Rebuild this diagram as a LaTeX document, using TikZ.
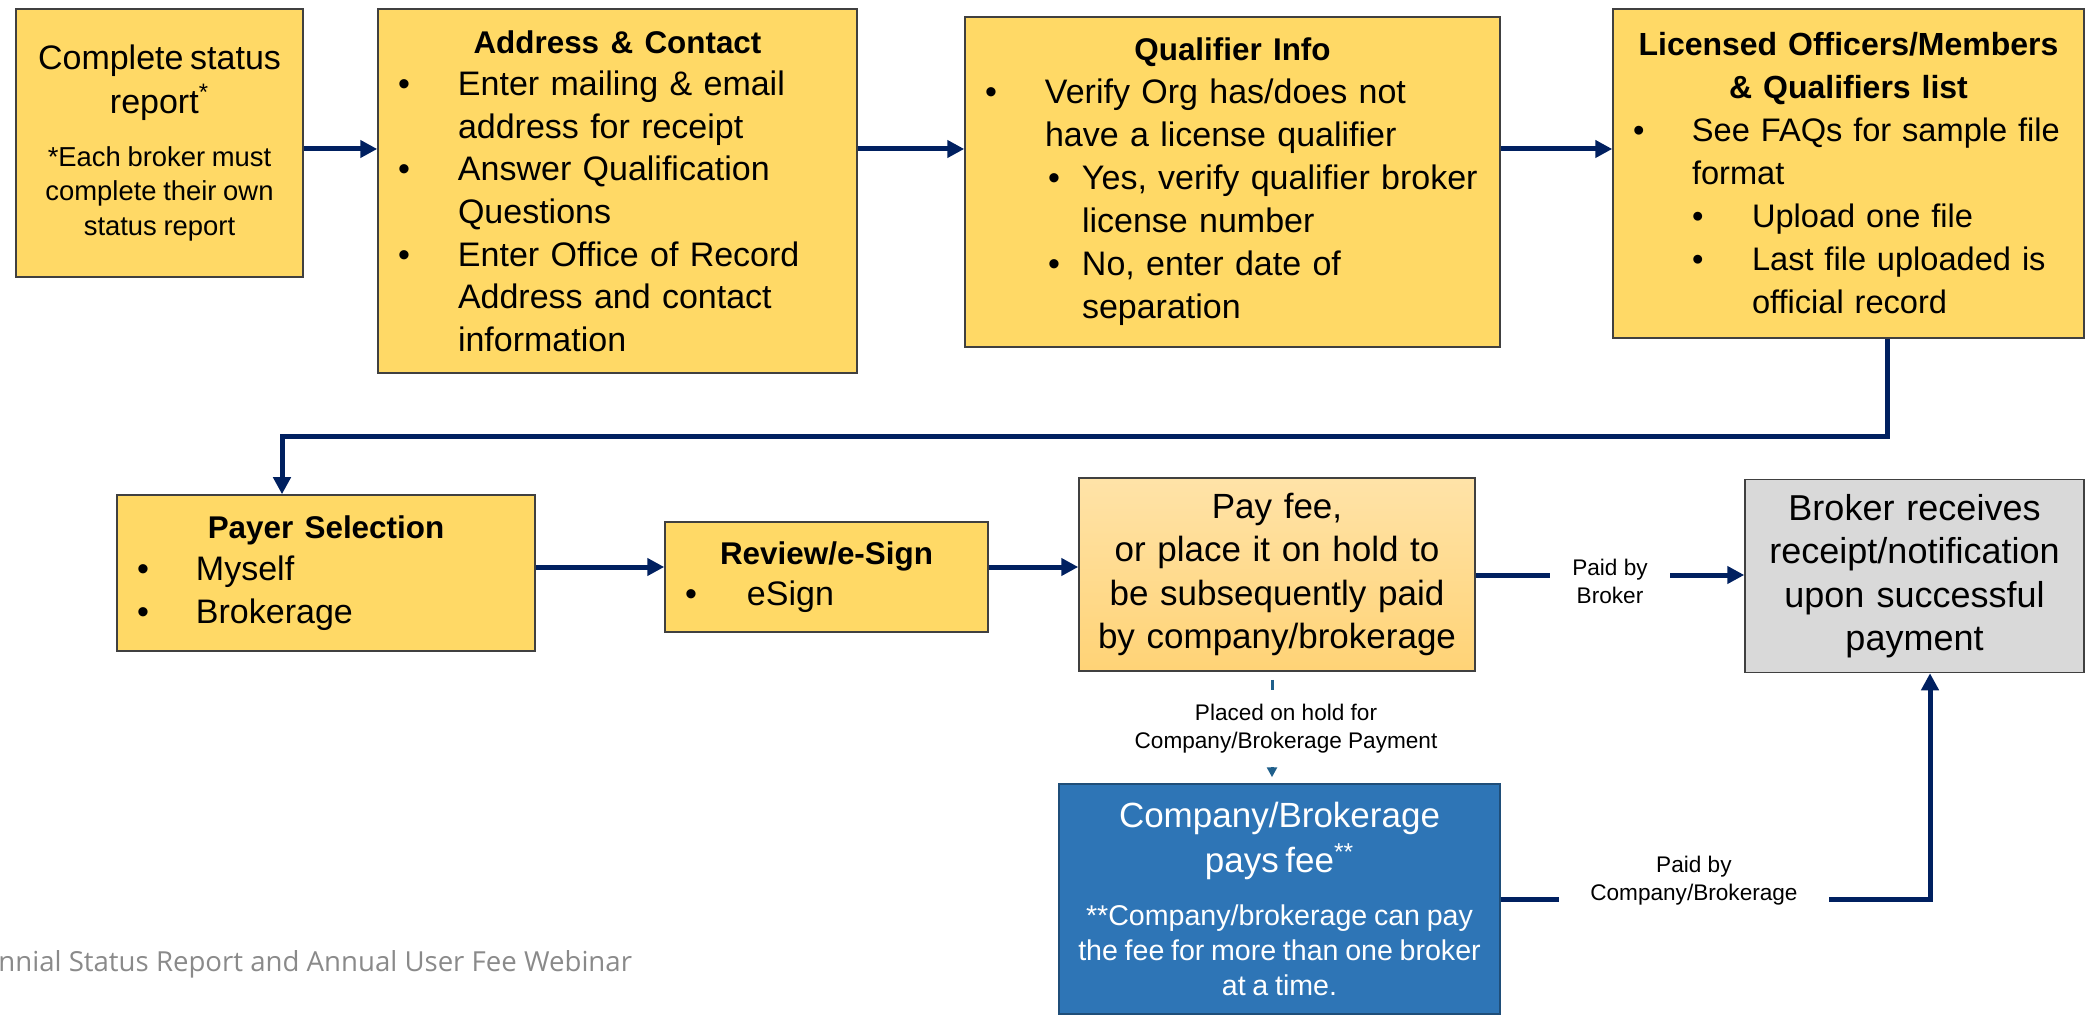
\documentclass[tikz,border=0pt]{standalone}
\usepackage{fontspec}
\setmainfont{Liberation Sans}
\newfontfamily\footfont{Open Sans}
\usetikzlibrary{arrows.meta,calc}
\definecolor{boxyellow}{HTML}{FFD966}
\definecolor{boxline}{HTML}{404040}
\definecolor{navy}{HTML}{002060}
\definecolor{payA}{HTML}{FFE3A8}
\definecolor{payB}{HTML}{FFD376}
\definecolor{brokergray}{HTML}{D9D9D9}
\definecolor{compblue}{HTML}{2E75B6}
\definecolor{compline}{HTML}{1F4E79}
\definecolor{holdblue}{HTML}{1F5F8B}
\definecolor{footgray}{HTML}{8A8A8A}
\newcommand\bl[3]{\par\noindent\hspace*{#1}\makebox[#2][l]{\textbullet}\mbox{#3}}
\newcommand\cl[2]{\par\noindent\hspace*{#1}\mbox{#2}}
\newcommand\ttl[1]{{\centering\fontsize{15.7}{21.3}\selectfont\bfseries\mbox{#1}\par}}
\begin{document}
\begin{tikzpicture}[x=0.5pt,y=-0.5pt,
  every node/.style={execute at begin node={\setlength{\parindent}{0pt}\setlength{\parskip}{0pt}}},
  box/.style={draw=boxline, line width=0.75pt, fill=boxyellow, inner xsep=10pt, inner ysep=2pt},
  arr/.style={draw=navy, line width=2.5pt, -{Triangle[length=8.5pt,width=8.5pt]}},
  hold/.style={draw=holdblue, line width=1.5pt, -{Triangle[length=5pt,width=5pt]}},
  lbl/.style={fill=white, font=\fontsize{11.3}{14}\selectfont, align=center, inner xsep=11pt, inner ysep=2pt, text=black}]
\useasboundingbox (0,0) rectangle (2087,1015);

% ---------- row 1 ----------
\node[box, minimum width=143.5pt, minimum height=134pt, text width=133.5pt, inner xsep=5pt] (b1) at (159.5,143)
  {\centering{\fontsize{17}{22}\selectfont \mbox{Complete status}\\report\textsuperscript{*}\par}\vspace{9.2pt}%
   {\fontsize{13.7}{17.3}\selectfont \mbox{*Each broker must}\\\mbox{complete their own}\\\mbox{status report}\par}};

\node[box, minimum width=239.5pt, minimum height=182pt, text width=219.5pt, font=\fontsize{17}{21.3}\selectfont] (b2) at (617.5,191)
  {\ttl{Address \& Contact}\bl{0pt}{30pt}{Enter mailing \& email}\cl{30pt}{address for receipt}%
   \bl{0pt}{30pt}{Answer Qualification}\cl{30pt}{Questions}\bl{0pt}{30pt}{Enter Office of Record}%
   \cl{30pt}{Address and contact}\cl{30pt}{information}\par};

\node[box, minimum width=267.5pt, minimum height=165pt, text width=247.5pt, font=\fontsize{17}{21.5}\selectfont] (b3) at (1232.5,182)
  {\ttl{Qualifier Info}\bl{0pt}{30pt}{Verify Org has/does not}\cl{30pt}{have a license qualifier}%
   \bl{31.5pt}{17pt}{Yes, verify qualifier broker}\cl{48.5pt}{license number}%
   \bl{31.5pt}{17pt}{No, enter date of}\cl{48.5pt}{separation}\par};

\node[box, minimum width=235.5pt, minimum height=164.5pt, text width=215.5pt, font=\fontsize{16.3}{21.5}\selectfont] (b4) at (1848.5,173.5)
  {{\centering\fontsize{16}{21.5}\selectfont\bfseries \mbox{Licensed Officers/Members}\\\mbox{\& Qualifiers list}\par}%
   \bl{0pt}{29.5pt}{See FAQs for sample file}\cl{29.5pt}{format}%
   \bl{29.5pt}{30pt}{Upload one file}\bl{29.5pt}{30pt}{Last file uploaded is}\cl{59.5pt}{official record}\par};

% ---------- row 2 ----------
\node[box, minimum width=209pt, minimum height=78pt, text width=189pt, font=\fontsize{17}{21.3}\selectfont] (payer) at (326,573)
  {\ttl{Payer Selection}\bl{0pt}{29.5pt}{Myself}\bl{0pt}{29.5pt}{Brokerage}\par};

\node[box, minimum width=161.5pt, minimum height=55pt, text width=141.5pt, font=\fontsize{17}{20.6}\selectfont] (review) at (826.5,577)
  {\ttl{Review/e-Sign}\bl{0pt}{31pt}{eSign}\par};

\node[draw=boxline, line width=0.75pt, top color=payA, bottom color=payB, minimum width=198pt, minimum height=96.5pt,
      text width=186pt, inner xsep=6pt, inner ysep=2pt, font=\fontsize{17.5}{21.75}\selectfont] (pay) at (1277,574.5)
  {\centering\mbox{Pay fee,}\\\mbox{or place it on hold to}\\\mbox{be subsequently paid}\\\mbox{by company/brokerage}\par};

\node[box, fill=brokergray, minimum width=169.5pt, minimum height=96.5pt, text width=159.5pt, inner xsep=5pt,
      font=\fontsize{18}{21.75}\selectfont] (broker) at (1914.5,576)
  {\centering\mbox{Broker receives}\\\mbox{receipt/notification}\\\mbox{upon successful}\\payment\par};

\node[draw=compline, line width=0.75pt, fill=compblue, text=white, minimum width=220.5pt, minimum height=115pt,
      text width=210.5pt, inner xsep=5pt, inner ysep=2pt] (comp) at (1279.5,899)
  {\centering{\fontsize{17.5}{22.6}\selectfont \mbox{Company/Brokerage}\\pays fee\textsuperscript{**}\par}\vspace{9.1pt}%
   {\fontsize{14.3}{17.5}\selectfont \mbox{**Company/brokerage can pay}\\\mbox{the fee for more than one broker}\\\mbox{at a time.}\par}};

\node[anchor=base west, font={\footfont\fontsize{13.8}{16}\selectfont}, text=footgray, inner sep=0pt] (foot) at (-2,971)
  {nnial Status Report and Annual User Fee Webinar};

% ---------- connectors ----------
\coordinate (r1) at (0,149);
\coordinate (r2) at (0,567);
\coordinate (r2b) at (0,575);
\coordinate (turnA) at (1887,437);
\coordinate (dropx) at (282,437);
\coordinate (r3) at (1930,899);

\draw[arr] (b1.east |- r1) -- (b2.west |- r1);
\draw[arr] (b2.east |- r1) -- (b3.west |- r1);
\draw[arr] (b3.east |- r1) -- (b4.west |- r1);
\draw[arr] (b4.south -| turnA) -- (turnA) -- (dropx) -- (payer.north -| dropx);
\draw[arr] (payer.east |- r2) -- (review.west |- r2);
\draw[arr] (review.east |- r2) -- (pay.west |- r2);
\draw[arr] (pay.east |- r2b) -- node[lbl, yshift=-3pt] (lblA) {Paid by\\Broker} (broker.west |- r2b);
\draw[hold] ($(pay.south)+(-5,8)$) -- node[lbl, xshift=7pt, inner ysep=7pt, inner xsep=2pt] (lblB)
  {Placed on hold for\\Company/Brokerage Payment} ($(pay.south |- comp.north)+(-5,-6)$);
\draw[arr] (comp.east |- r3) -- node[lbl, pos=0.45, yshift=9pt, inner xsep=15.5pt] (lblC)
  {Paid by\\Company/Brokerage} (r3) -- (broker.south -| r3);
\end{tikzpicture}
\end{document}
